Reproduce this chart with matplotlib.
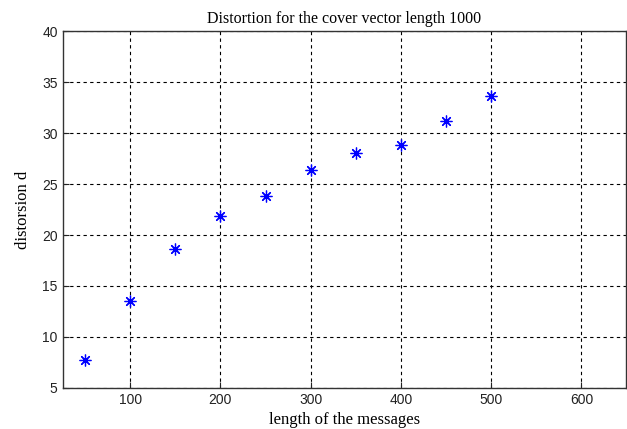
import matplotlib
matplotlib.use("Agg")
import matplotlib.pyplot as plt

msg_len = [50, 100, 150, 200, 250, 300, 350, 400, 450, 500]
distortion = [7.75, 13.56, 18.66, 21.9, 23.85, 26.34, 28.04, 28.79, 31.18, 33.66]
xticks = [100, 200, 300, 400, 500, 600]
yticks = [5, 10, 15, 20, 25, 30, 35, 40]

fig = plt.figure(figsize=(6.27, 4.29), dpi=100)
ax = fig.add_axes([0.0997, 0.0956, 0.8995, 0.8321])
ax.plot(msg_len, distortion, linestyle='none', marker=(8, 2, 0), markersize=8.5,
        markeredgewidth=0.9, color='#0000ff')
ax.set_xlim(25, 650)
ax.set_ylim(5, 40)
ax.set_xticks(xticks)
ax.set_yticks(yticks)
ax.grid(True, color='black', linestyle=(0, (3, 3)), linewidth=0.8)
ax.tick_params(direction='in', length=4, labelsize=10, colors='#222222')
for lab in ax.get_xticklabels() + ax.get_yticklabels():
    lab.set_fontfamily('Liberation Sans')
for s in ax.spines.values():
    s.set_linewidth(1.0)
    s.set_color('#333333')
ax.set_title('Distortion for the cover vector length 1000', fontfamily='Liberation Serif',
             fontsize=11.5, pad=6)
ax.set_xlabel('length of the messages', fontfamily='Liberation Serif', fontsize=12, labelpad=4)
ax.set_ylabel('distorsion d', fontfamily='Liberation Serif', fontsize=12, labelpad=8)
fig.savefig('out.png', dpi=100)
